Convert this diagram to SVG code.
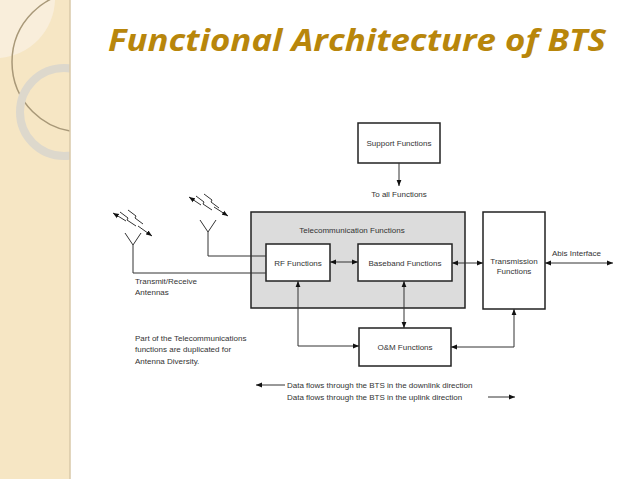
<svg xmlns="http://www.w3.org/2000/svg" width="638" height="479" viewBox="0 0 638 479">
<defs>
<marker id="a" viewBox="0 0 10 10" refX="10" refY="5" markerWidth="6" markerHeight="6" orient="auto-start-reverse"><path d="M0,1 L10,5 L0,9 z" fill="#111"/></marker>
<clipPath id="s"><rect x="0" y="0" width="70" height="479"/></clipPath>
<style>
.b{fill:#fff;stroke:#222;stroke-width:1.5}
.t{font-family:"Liberation Sans",Arial,sans-serif;font-size:8px;fill:#333}
.c{text-anchor:middle}
.l{fill:none;stroke:#333;stroke-width:1}
</style>
</defs>
<rect width="638" height="479" fill="#fff"/>
<rect x="0" y="0" width="70" height="479" fill="#f6e6c4"/>
<g clip-path="url(#s)">
<path d="M0,0 H55 A60,60 0 0 1 0,58 z" fill="#f9eedb"/>
<circle cx="82" cy="62" r="70" fill="none" stroke="#a89878" stroke-width="1.5"/>
<circle cx="64" cy="112" r="44" fill="none" stroke="#ddd8cc" stroke-width="8"/>
</g>
<line x1="70" y1="0" x2="70" y2="479" stroke="#d8c9a8" stroke-width="1.5"/>
<text x="108" y="51" font-family="'Open Sans',sans-serif" font-weight="bold" font-style="italic" font-size="31" fill="#b8860b" textLength="498" lengthAdjust="spacingAndGlyphs">Functional Architecture of BTS</text>
<g id="support"><rect class="b" x="358" y="123" width="82" height="40"/><text class="t c" x="399" y="146">Support Functions</text></g>
<text class="t c" x="399" y="197">To all Functions</text>
<g id="telecom"><rect x="251" y="212" width="214" height="96" fill="#dcdcdc" stroke="#222" stroke-width="1.5"/><text class="t c" x="352" y="233">Telecommunication Functions</text></g>
<g id="rf"><rect class="b" x="266" y="244" width="64" height="37"/><text class="t c" x="298" y="266">RF Functions</text></g>
<g id="bb"><rect class="b" x="358" y="244" width="94" height="37"/><text class="t c" x="405" y="266">Baseband Functions</text></g>
<g id="trans"><rect class="b" x="483" y="212" width="62" height="97"/><text class="t c" x="514" y="264">Transmission</text><text class="t c" x="514" y="274">Functions</text></g>
<g id="om"><rect class="b" x="359" y="328" width="92" height="38"/><text class="t c" x="405" y="350">O&amp;M Functions</text></g>
<g id="connectors">
<line class="l" x1="399" y1="163" x2="399" y2="186" marker-end="url(#a)"/>
<line class="l" x1="330" y1="262" x2="358" y2="262" marker-start="url(#a)" marker-end="url(#a)"/>
<line class="l" x1="452" y1="263" x2="483" y2="263" marker-start="url(#a)" marker-end="url(#a)"/>
<line class="l" x1="545" y1="263" x2="613" y2="263" marker-start="url(#a)" marker-end="url(#a)"/>
<polyline class="l" points="298,281 298,346 359,346" marker-start="url(#a)" marker-end="url(#a)"/>
<line class="l" x1="404" y1="281" x2="404" y2="328" marker-start="url(#a)" marker-end="url(#a)"/>
<polyline class="l" points="514,309 514,347 451,347" marker-start="url(#a)" marker-end="url(#a)"/>
<polyline class="l" points="133,245 133,273 266,273"/>
<polyline class="l" points="208,232 208,256 266,256"/>
<line class="l" x1="285" y1="385" x2="256" y2="385" marker-end="url(#a)"/>
<line class="l" x1="488" y1="397" x2="515" y2="397" marker-end="url(#a)"/>
</g>
<g id="antennas" class="l">
<path d="M125,233 L133,245 L141,233"/>
<path d="M200,220 L208,232 L216,220"/>
<polyline points="126,221 113,213" marker-end="url(#a)"/>
<polyline points="120,212 128,218 127,220 136,226"/>
<polyline points="128,210 136,216 135,218 143,224"/>
<polyline points="138,226 152,236" marker-end="url(#a)"/>
<polyline points="201,205 189,197" marker-end="url(#a)"/>
<polyline points="196,196 204,202 203,204 212,210"/>
<polyline points="204,194 212,200 211,202 219,208"/>
<polyline points="214,207 228,216" marker-end="url(#a)"/>
</g>
<text class="t" x="135" y="284">Transmit/Receive</text>
<text class="t" x="135" y="295">Antennas</text>
<text class="t" x="552" y="256">Abis Interface</text>
<text class="t" x="135" y="341">Part of the Telecommunications</text>
<text class="t" x="135" y="352">functions are duplicated for</text>
<text class="t" x="135" y="364">Antenna Diversity.</text>
<text class="t" x="287" y="388">Data flows through the BTS in the downlink direction</text>
<text class="t" x="287" y="400">Data flows through the BTS in the uplink direction</text>
</svg>
